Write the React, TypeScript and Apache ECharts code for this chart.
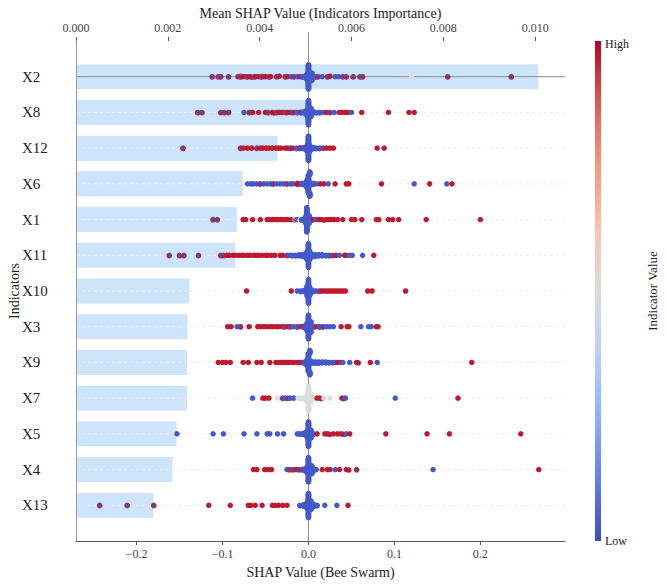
import React, { useEffect, useRef } from "react";
import * as echarts from "echarts";

// ---------- data ----------
const categories = ["X2", "X8", "X12", "X6", "X1", "X11", "X10", "X3", "X9", "X7", "X5", "X4", "X13"];
const meanShap = [0.01007, 0.00503, 0.00439, 0.00363, 0.0035, 0.00347, 0.00247, 0.00243, 0.00242, 0.00242, 0.00219, 0.0021, 0.00169];
const shapTicks = [-0.2, -0.1, 0, 0.1, 0.2];
const impTicks = [0, 0.002, 0.004, 0.006, 0.008, 0.01];
const catIndex = [0, 1, 2, 3, 4, 5, 6, 7, 8, 9, 10, 11, 12];

// feature values: B = low, R = high, G = middle
const B = 0.03;
const R = 0.97;
const G = 0.5;
type Pt = [number, number, number?]; // [shap, feature value, number of samples]

const swarmX2: Pt[] = [[-0.112,B],[-0.112,R],[-0.105,B],[-0.105,R],[-0.102,B],[-0.102,R],[-0.093,B],[-0.093,R],[-0.082,R],[-0.079,B],[-0.079,R],[-0.076,R],[-0.073,R],[-0.071,B],[-0.071,R],[-0.068,R],[-0.066,R],[-0.063,B],[-0.063,R],[-0.061,R],[-0.058,R],[-0.055,B],[-0.055,R],[-0.052,R],[-0.05,R],[-0.046,B],[-0.046,R],[-0.044,R],[-0.037,B],[-0.037,R],[-0.034,R],[-0.027,B],[-0.027,R],[-0.024,R],[-0.02,B],[-0.017,B],[-0.017,R],[-0.013,B],[-0.01,R],[-0.007,B,2],[-0.004,B,3],[-0.0015,B,14],[0,B,40],[0.0015,B,14],[0.004,B,3],[0.008,B,2],[0.011,B],[0.011,R],[0.016,B],[0.022,B],[0.022,R],[0.025,R],[0.031,B],[0.035,B],[0.04,B],[0.04,R],[0.044,B],[0.044,R],[0.052,B],[0.052,R],[0.06,B],[0.06,R],[0.063,B],[0.063,R],[0.12,G],[0.162,B],[0.162,R],[0.236,B],[0.236,R]];
const swarmX8: Pt[] = [[-0.129,B],[-0.129,R],[-0.124,B],[-0.124,R],[-0.102,B],[-0.102,R],[-0.098,B],[-0.098,R],[-0.093,B],[-0.093,R],[-0.075,B],[-0.069,B],[-0.069,R],[-0.065,R],[-0.058,R],[-0.05,R],[-0.047,B],[-0.047,R],[-0.042,R],[-0.04,R],[-0.037,B],[-0.037,R],[-0.034,R],[-0.031,R],[-0.029,R],[-0.026,B],[-0.026,R],[-0.024,R],[-0.021,R],[-0.018,B],[-0.018,R],[-0.015,R],[-0.013,B,2],[-0.009,B,2],[-0.009,R],[-0.006,B,3],[-0.003,B,5],[-0.0015,B,14],[0,B,40],[0.0015,B,14],[0.003,B,5],[0.006,B,3],[0.009,B,2],[0.013,B,2],[0.017,B],[0.021,R],[0.025,B],[0.025,R],[0.03,B],[0.036,R],[0.039,R],[0.043,R],[0.046,R],[0.05,B],[0.062,R],[0.093,R],[0.117,R],[0.123,R]];
const swarmX12: Pt[] = [[-0.146,B],[-0.146,R],[-0.079,B],[-0.079,R],[-0.076,R],[-0.071,R],[-0.066,R],[-0.06,B],[-0.06,R],[-0.056,R],[-0.053,R],[-0.049,R],[-0.046,R],[-0.042,R],[-0.038,R],[-0.035,R],[-0.032,R],[-0.027,R],[-0.024,R],[-0.021,B],[-0.021,R],[-0.018,R],[-0.014,B,2],[-0.01,B,2],[-0.01,R],[-0.006,B,3],[-0.003,B,5],[-0.0015,B,14],[0,B,40],[0.0015,B,14],[0.003,B,5],[0.006,B,3],[0.009,B,2],[0.013,B,2],[0.017,B],[0.017,R],[0.021,R],[0.025,R],[0.029,R],[0.08,R],[0.088,R]];
const swarmX6: Pt[] = [[-0.071,B],[-0.067,B],[-0.064,B],[-0.06,B],[-0.056,B],[-0.056,R],[-0.052,B],[-0.048,B],[-0.044,B],[-0.041,B],[-0.041,R],[-0.037,B],[-0.033,B],[-0.029,B],[-0.025,B],[-0.025,R],[-0.021,B],[-0.018,B],[-0.013,R,3],[-0.01,R],[-0.008,B,2],[-0.005,B,4],[-0.002,B,4],[-0.0015,B,14],[0,B,40],[0.0015,B,14],[0.003,B,4],[0.006,B,3],[0.01,B],[0.014,R],[0.018,R],[0.023,B],[0.031,R],[0.044,R],[0.047,R],[0.085,R],[0.123,B],[0.141,R],[0.161,B],[0.167,R]];
const swarmX1: Pt[] = [[-0.111,B],[-0.111,R],[-0.106,B],[-0.106,R],[-0.076,R],[-0.073,R],[-0.065,R],[-0.056,R],[-0.048,R],[-0.045,R],[-0.042,R],[-0.039,R],[-0.036,R],[-0.033,R],[-0.03,R],[-0.027,R],[-0.024,R],[-0.02,R],[-0.016,G],[-0.016,R],[-0.013,B],[-0.01,G],[-0.008,B,2],[-0.005,B,3],[-0.0035,B,14],[-0.002,B,40],[-0.0005,B,14],[0.001,B,3],[0.004,B,2],[0.006,R],[0.009,B],[0.012,R],[0.015,R],[0.018,R],[0.021,R],[0.024,R],[0.027,R],[0.03,R],[0.034,R],[0.04,R],[0.05,R],[0.054,R],[0.062,R],[0.079,R],[0.082,R],[0.093,R],[0.098,R],[0.105,R],[0.137,R],[0.2,R]];
const swarmX11: Pt[] = [[-0.162,B],[-0.162,R],[-0.15,B],[-0.15,R],[-0.145,B],[-0.145,R],[-0.128,B],[-0.128,R],[-0.102,B],[-0.102,R],[-0.099,B],[-0.099,R],[-0.095,R],[-0.092,R],[-0.088,R],[-0.085,R],[-0.081,R],[-0.078,R],[-0.075,R],[-0.071,R],[-0.068,R],[-0.064,R],[-0.061,R],[-0.058,R],[-0.054,R],[-0.05,R],[-0.047,R],[-0.043,R],[-0.039,R],[-0.033,R],[-0.03,R],[-0.025,B],[-0.025,R],[-0.022,B],[-0.019,B,2],[-0.015,B,2],[-0.011,B,3],[-0.007,B,4],[-0.004,B,5],[-0.0015,B,14],[0,B,40],[0.0015,B,14],[0.004,B,5],[0.008,B,4],[0.012,B,3],[0.016,B,3],[0.02,B,2],[0.024,B,2],[0.028,B],[0.028,R],[0.032,R],[0.036,B],[0.042,R],[0.044,R],[0.048,B],[0.051,B],[0.063,B],[0.076,R]];
const swarmX10: Pt[] = [[-0.072,R],[-0.02,R],[-0.013,B],[-0.009,B,2],[-0.005,B,3],[-0.002,B,3],[-0.0015,B,14],[0,B,40],[0.0015,B,14],[0.003,B,3],[0.006,B,2],[0.009,B],[0.013,B],[0.013,R],[0.016,R],[0.019,R],[0.022,R],[0.025,R],[0.028,R],[0.031,R],[0.034,R],[0.037,R],[0.04,R],[0.043,R],[0.069,R],[0.074,R],[0.113,R]];
const swarmX3: Pt[] = [[-0.094,R],[-0.09,R],[-0.083,B],[-0.079,B],[-0.079,R],[-0.069,R],[-0.059,R],[-0.056,R],[-0.052,R],[-0.049,R],[-0.045,R],[-0.042,R],[-0.038,R],[-0.035,R],[-0.031,R],[-0.028,B],[-0.028,R],[-0.024,R],[-0.021,B],[-0.021,R],[-0.017,B],[-0.013,B,2],[-0.009,R],[-0.006,B,2],[-0.006,R],[-0.003,B,4],[-0.0015,B,14],[0,B,40],[0.0015,B,14],[0.003,B,4],[0.006,B,2],[0.009,R],[0.013,B,2],[0.017,B],[0.017,R],[0.021,B],[0.025,B],[0.029,B],[0.038,R],[0.045,R],[0.047,R],[0.061,B],[0.07,B],[0.073,B],[0.079,R],[0.081,R]];
const swarmX9: Pt[] = [[-0.105,R],[-0.1,R],[-0.096,R],[-0.091,R],[-0.076,R],[-0.07,R],[-0.06,R],[-0.055,R],[-0.045,R],[-0.038,R],[-0.035,R],[-0.032,R],[-0.029,R],[-0.026,R],[-0.023,R],[-0.02,R],[-0.017,R],[-0.013,R],[-0.01,R],[-0.007,B],[-0.007,R],[-0.004,B,4],[-0.0015,B,14],[0,B,40],[0.0015,B,14],[0.004,B,5],[0.008,B,4],[0.012,B,4],[0.016,B,3],[0.02,B,3],[0.024,B,2],[0.028,B,2],[0.031,B],[0.034,R],[0.038,R],[0.04,B],[0.048,B],[0.056,R],[0.058,R],[0.072,R],[0.08,B],[0.19,R]];
const swarmX7: Pt[] = [[-0.065,B],[-0.053,R],[-0.05,R],[-0.046,R],[-0.036,G],[-0.03,B],[-0.03,R],[-0.027,B],[-0.024,B],[-0.024,R],[-0.021,B],[-0.017,B],[-0.012,G],[-0.009,G,2],[-0.005,G,3],[-0.002,G,3],[-0.0015,G,14],[0,G,40],[0.0015,G,14],[0.003,G,3],[0.006,G,2],[0.01,R],[0.013,R],[0.015,R],[0.018,G],[0.025,G],[0.039,R],[0.041,R],[0.043,B],[0.101,B],[0.174,R]];
const swarmX5: Pt[] = [[-0.153,B],[-0.111,B],[-0.099,B],[-0.075,B],[-0.06,B],[-0.048,B],[-0.045,B],[-0.036,B],[-0.029,B],[-0.013,B],[-0.01,B,2],[-0.006,B,3],[-0.003,B,4],[-0.0015,B,14],[0,B,40],[0.0015,B,14],[0.003,B,4],[0.006,B,2],[0.01,R],[0.019,R],[0.022,R],[0.025,R],[0.029,R],[0.034,R],[0.038,R],[0.041,R],[0.044,B],[0.048,R],[0.09,R],[0.138,R],[0.164,R],[0.247,R]];
const swarmX4: Pt[] = [[-0.064,R],[-0.06,R],[-0.051,R],[-0.047,R],[-0.043,R],[-0.025,B],[-0.022,B],[-0.022,R],[-0.018,B],[-0.018,R],[-0.014,R],[-0.011,B],[-0.011,R],[-0.007,B,2],[-0.007,R],[-0.004,B,4],[-0.0015,B,14],[0,B,40],[0.0015,B,14],[0.004,B,4],[0.007,B,2],[0.009,B],[0.016,R],[0.022,R],[0.025,R],[0.031,B],[0.036,R],[0.044,R],[0.047,R],[0.056,B],[0.056,R],[0.145,B],[0.268,R]];
const swarmX13: Pt[] = [[-0.243,B],[-0.243,R],[-0.211,B],[-0.211,R],[-0.18,B],[-0.18,R],[-0.116,R],[-0.091,R],[-0.07,R],[-0.067,R],[-0.062,R],[-0.054,R],[-0.042,R],[-0.039,R],[-0.035,R],[-0.03,R],[-0.025,R],[-0.01,B,2],[-0.006,B,4],[-0.003,B,5],[-0.0015,B,14],[0,B,40],[0.0015,B,14],[0.003,B,5],[0.007,B,4],[0.01,B,2],[0.019,B],[0.033,B],[0.046,R]];

const swarms: Pt[][] = [swarmX2, swarmX8, swarmX12, swarmX6, swarmX1, swarmX11, swarmX10, swarmX3, swarmX9, swarmX7, swarmX5, swarmX4, swarmX13];

// ---------- styling / layout helpers ----------
const FONT = "Liberation Serif, Times New Roman, serif";
const SHAP_MIN = -0.2705;
const SHAP_MAX = 0.2985;
const IMP_MAX = 0.01065;

const CW = [
  [59, 76, 192], [98, 130, 234], [141, 176, 254], [184, 208, 249], [221, 221, 221],
  [245, 196, 173], [244, 154, 123], [222, 96, 77], [180, 4, 38],
];
function coolwarm(t: number): string {
  const c = Math.max(0, Math.min(1, t)) * 8;
  const i = Math.min(7, Math.floor(c));
  const f = c - i;
  const a = CW[i], b = CW[i + 1];
  const m = (k: number) => Math.round(a[k] + (b[k] - a[k]) * f);
  return `rgb(${m(0)},${m(1)},${m(2)})`;
}

// shap-style beeswarm: bin by value, stack within bin, scale to row height
function swarmOffsets(shaps: number[]): number[] {
  const n = shaps.length;
  const mn = Math.min(...shaps);
  const mx = Math.max(...shaps);
  const q = shaps.map((s) => Math.round((100 * (s - mn)) / (mx - mn + 1e-8)));
  const order = shaps.map((_, i) => i).sort((a, b) => q[a] - q[b] || a - b);
  const ys = new Array(n).fill(0);
  let layer = 0;
  let last = -1;
  for (const i of order) {
    if (q[i] !== last) layer = 0;
    ys[i] = Math.ceil(layer / 2) * ((layer % 2) * 2 - 1);
    layer++;
    last = q[i];
  }
  const m = Math.max(...ys.map((y) => y + 1));
  return ys.map((y) => (y * 0.9 * 0.4) / m);
}

function buildPoints() {
  const out: any[] = [];
  swarms.forEach((row, ri) => {
    const s: number[] = [];
    const v: number[] = [];
    row.forEach(([sh, fv, c]) => {
      const k = c ?? 1;
      for (let j = 0; j < k; j++) {
        s.push(sh);
        v.push(fv);
      }
    });
    const off = swarmOffsets(s);
    s.forEach((sh, i) => {
      let overlap = false;
      for (let k = 0; k < i; k++) {
        if (Math.abs(s[k] - sh) < 1e-9 && Math.abs(v[k] - v[i]) > 0.4) {
          overlap = true;
          break;
        }
      }
      out.push({
        value: [sh, ri + off[i]],
        itemStyle: { color: coolwarm(v[i]), opacity: overlap ? 0.6 : 1 },
      });
    });
  });
  return out;
}

export default function App() {
  const ref = useRef<HTMLDivElement>(null);
  useEffect(() => {
    if (!ref.current) return;
    const chart = echarts.init(ref.current, undefined, { renderer: "svg" });
    const tickText = { fontFamily: FONT, fontSize: 12, color: "#444" };
    const nameText = { fontFamily: FONT, fontSize: 14, color: "#222" };
    const option: any = {
      animation: false,
      backgroundColor: "#fff",
      grid: { left: 76, right: 101, top: 41, bottom: 45, containLabel: false, outerBoundsMode: "none" },
      xAxis: [
        {
          type: "value",
          position: "bottom",
          min: SHAP_MIN,
          max: SHAP_MAX,
          name: "SHAP Value (Bee Swarm)",
          nameLocation: "middle",
          nameGap: 24,
          nameMoveOverlap: false,
          nameTextStyle: nameText,
          axisLine: { show: true, onZero: false, lineStyle: { color: "#555", width: 1 } },
          axisTick: { show: true, length: 4, customValues: shapTicks, lineStyle: { color: "#555" } },
          axisLabel: {
            ...tickText,
            customValues: shapTicks,
            margin: 7,
            formatter: (v: number) => (v < 0 ? "\u2212" + Math.abs(v).toFixed(1) : v.toFixed(1)),
          },
          splitLine: { show: false },
        },
        {
          type: "value",
          position: "top",
          min: 0,
          max: IMP_MAX,
          name: "Mean SHAP Value (Indicators Importance)",
          nameLocation: "middle",
          nameGap: 21,
          nameMoveOverlap: false,
          nameTextStyle: nameText,
          axisLine: { show: false, onZero: false },
          axisTick: { show: true, length: 4, customValues: impTicks, lineStyle: { color: "#555" } },
          axisLabel: { ...tickText, customValues: impTicks, margin: 7, formatter: (v: number) => v.toFixed(3) },
          splitLine: { show: false },
        },
      ],
      yAxis: {
        type: "value",
        min: -1,
        max: 13,
        inverse: true,
        z: 5,
        name: "Indicators",
        nameLocation: "middle",
        nameGap: 55,
        nameMoveOverlap: false,
        nameTextStyle: nameText,
        axisLine: { show: true, onZero: false, lineStyle: { color: "#9a9a9a", width: 1 } },
        axisTick: { show: false },
        axisLabel: {
          customValues: catIndex,
          formatter: (v: number) => categories[Math.round(v)] ?? "",
          align: "left",
          margin: 54,
          fontFamily: FONT,
          fontSize: 15,
          color: "#222",
        },
        splitLine: { show: false },
      },
      series: [
        {
          type: "custom",
          name: "importance",
          xAxisIndex: 1,
          yAxisIndex: 0,
          z: 1,
          silent: true,
          data: meanShap.map((v, i) => [v, i]),
          renderItem: (params: any, api: any) => {
            const v = api.value(0);
            const i = api.value(1);
            const p0 = api.coord([0, i]);
            const p1 = api.coord([v, i]);
            const h = api.size([0, 0.7])[1];
            return {
              type: "rect",
              shape: { x: p0[0], y: p0[1] - h / 2, width: p1[0] - p0[0], height: h },
              style: { fill: "#cde4fa" },
            };
          },
        },
        {
          type: "custom",
          name: "rowLines",
          xAxisIndex: 0,
          yAxisIndex: 0,
          z: 2,
          silent: true,
          data: catIndex.map((i) => [0, i]),
          renderItem: (params: any, api: any) => {
            const i = api.value(1);
            const y = api.coord([0, i])[1];
            const cs = params.coordSys;
            return {
              type: "line",
              shape: { x1: cs.x, y1: y, x2: cs.x + cs.width, y2: y },
              style: i === 0 ? { stroke: "#8c8c8c", lineWidth: 1 } : { stroke: "#ececec", lineWidth: 1, lineDash: [3, 3] },
            };
          },
        },
        {
          type: "custom",
          name: "zeroLine",
          xAxisIndex: 0,
          yAxisIndex: 0,
          z: 2,
          silent: true,
          data: [[0, 0]],
          renderItem: (params: any, api: any) => {
            const top = api.coord([0, -1]);
            const bot = api.coord([0, 13]);
            return {
              type: "line",
              shape: { x1: top[0], y1: top[1] - 9, x2: bot[0], y2: bot[1] },
              style: { stroke: "#8c8c8c", lineWidth: 1 },
            };
          },
        },
        {
          type: "scatter",
          name: "shap",
          xAxisIndex: 0,
          yAxisIndex: 0,
          z: 3,
          silent: true,
          symbol: "circle",
          symbolSize: 5.5,
          data: buildPoints(),
        },
      ],
      graphic: [
        {
          type: "rect",
          shape: { x: 595, y: 41, width: 6, height: 500 },
          style: {
            fill: new echarts.graphic.LinearGradient(
              0, 0, 0, 1,
              CW.slice().reverse().map((c, k) => ({ offset: k / 8, color: `rgb(${c[0]},${c[1]},${c[2]})` }))
            ),
          },
        },
        { type: "text", x: 605, y: 44, style: { text: "High", fontFamily: FONT, fontSize: 12, fill: "#222", verticalAlign: "middle" } },
        { type: "text", x: 605, y: 541, style: { text: "Low", fontFamily: FONT, fontSize: 12, fill: "#222", verticalAlign: "middle" } },
        {
          type: "text",
          x: 652,
          y: 291,
          rotation: Math.PI / 2,
          style: { text: "Indicator Value", fontFamily: FONT, fontSize: 13, fill: "#222", align: "center", verticalAlign: "middle" },
        },
      ],
    };
    chart.setOption(option);
    return () => chart.dispose();
  }, []);
  return <div ref={ref} style={{ position: "absolute", left: 0, top: 0, width: 666, height: 586 }} />;
}
